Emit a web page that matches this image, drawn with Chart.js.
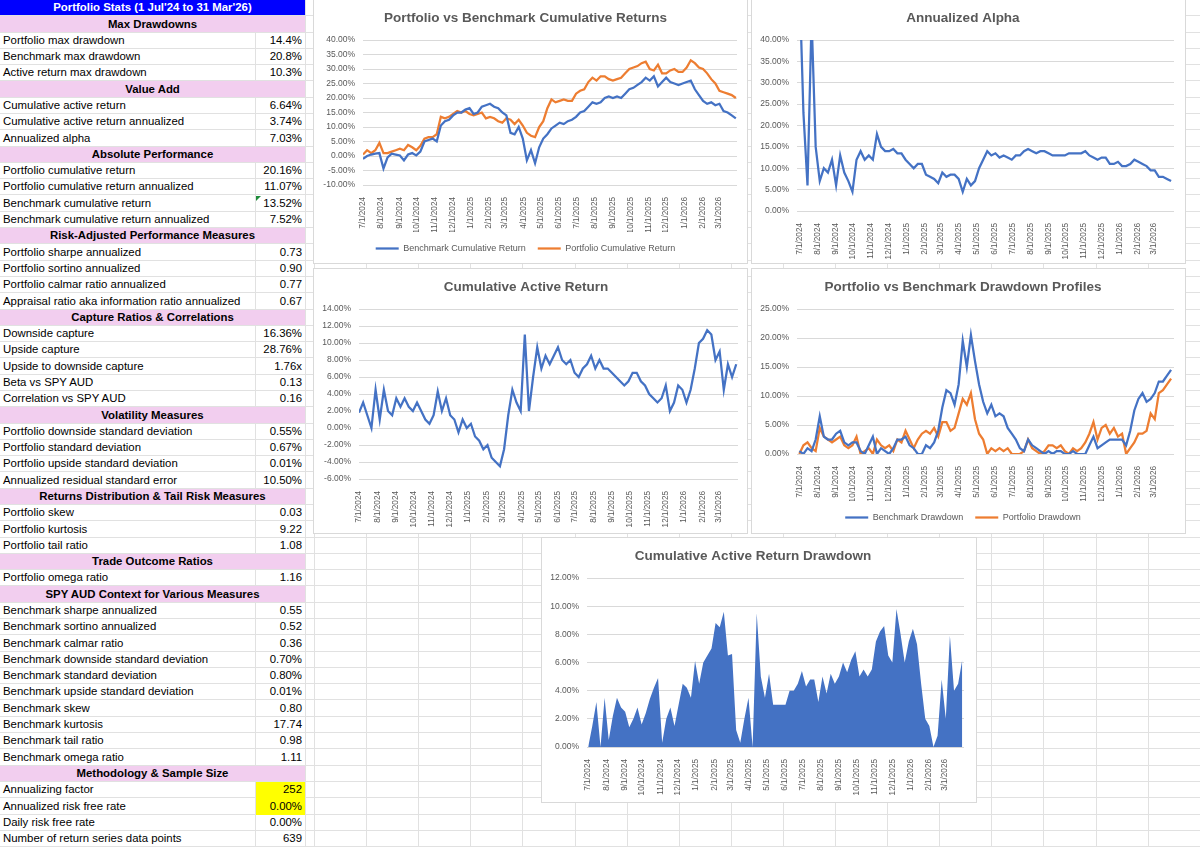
<!DOCTYPE html>
<html>
<head>
<meta charset="utf-8">
<title>Portfolio Stats</title>
<script src="https://cdn.jsdelivr.net/npm/chart.js@4.4.1/dist/chart.umd.min.js"></script>
<style>
  html, body { margin: 0; padding: 0; }
  body { width: 1200px; height: 847px; overflow: hidden; position: relative; background: #fff;
         font-family: 'Liberation Sans', Arial, sans-serif; }
  .gl { position: absolute; background: #e1e1e1; }
  .row { position: absolute; left: 0; width: 305px; box-sizing: border-box; border-bottom: 1px solid #e1e1e1;
         font-size: 11.4px; color: #000; white-space: nowrap; }
  .row .lab { position: absolute; left: 3px; top: 0; }
  .row .val { position: absolute; left: 255px; width: 50px; top: 0; bottom: -1px; box-sizing: border-box;
              border-left: 1px solid #e1e1e1; text-align: right; padding-right: 3px; }
  .hdr { background: #f2ceef; font-weight: bold; text-align: center; }
  .ttl { background: #0000ff; color: #fff; font-weight: bold; text-align: center; }
  .yel { background: #ffff00; }
  .tri { position: absolute; left: 256px; top: 1px; width: 0; height: 0;
         border-top: 5px solid #1e8c3a; border-right: 5px solid transparent; }
  .box { position: absolute; background: #fff; border: 1px solid #d9d9d9; }
  .box canvas { position: absolute; left: 0; top: 0; }
</style>
</head>
<body>
<div id="sheet"></div>
<div id="stats"></div>
<script>
// weekly sample points, days since 7/1/2024
const sampleDays = [0,7,14,21,28,35,42,49,56,63,70,77,84,91,98,105,112,119,126,133,
  140,147,154,161,168,175,182,189,196,203,210,217,224,231,238,245,252,259,266,273,
  280,287,294,301,308,315,322,329,336,343,350,357,364,371,378,385,392,399,406,413,
  420,427,434,441,448,455,462,469,476,483,490,497,504,511,518,525,532,539,546,553,
  560,567,574,581,588,595,602,609,616,623,630,637];

const tickDays = [0,31,62,92,123,153,184,215,243,274,304,335,365,396,427,457,488,518,549,580,608];
const tickLabels = ['7/1/2024','8/1/2024','9/1/2024','10/1/2024','11/1/2024','12/1/2024',
  '1/1/2025','2/1/2025','3/1/2025','4/1/2025','5/1/2025','6/1/2025','7/1/2025','8/1/2025',
  '9/1/2025','10/1/2025','11/1/2025','12/1/2025','1/1/2026','2/1/2026','3/1/2026'];

// percent values
const benchCum = [-1.0,0.0,0.5,0.8,1.0,-4.3,-0.5,0.8,0.5,0.2,
  -1.5,0.5,1.0,0.2,1.5,5.0,5.5,6.0,5.0,10.5,
  12.0,12.5,14.0,15.0,15.0,16.0,16.5,14.5,15.0,17.0,
  17.5,18.0,17.0,16.5,15.0,14.0,8.0,7.5,10.0,6.0,
  -1.5,2.0,-2.5,3.0,6.0,7.5,9.5,10.5,11.5,11.0,
  12.0,12.5,13.5,15.0,15.5,17.0,18.5,18.0,18.5,20.0,
  20.5,20.0,20.5,20.0,21.5,23.0,23.5,24.5,25.5,27.0,
  26.0,27.5,24.0,25.5,27.0,25.5,25.0,24.5,25.0,25.5,
  26.0,23.0,21.0,19.0,18.0,18.5,17.5,18.0,15.5,15.0,
  14.0,13.0];

const portCum = [0.5,2.0,1.0,2.0,4.5,1.0,1.0,1.5,2.0,2.5,
  2.0,3.8,3.0,2.0,3.5,6.0,6.5,6.5,7.5,13.5,
  13.0,13.5,14.5,15.5,15.0,15.5,14.5,14.0,14.5,15.0,
  13.0,13.5,13.0,12.0,11.5,13.0,12.5,11.0,12.5,10.5,
  8.0,7.0,6.5,10.0,12.0,16.5,19.5,18.5,19.0,19.5,
  19.0,19.0,21.5,22.5,23.0,25.5,27.0,26.0,27.5,27.5,
  26.5,26.0,26.5,27.0,28.5,30.0,30.5,31.0,32.0,32.5,
  30.0,29.5,31.5,28.5,28.5,29.5,30.0,29.0,29.0,30.5,
  33.0,32.0,30.5,30.0,28.5,26.5,25.0,22.5,22.0,21.5,
  21.0,20.0];

const alphaAnn = [55,23,6,45,15,7,10,9,12,6,
  13,9,7,4.5,12,14,12,13,12,18,
  15,14,14,14.5,13.5,13.5,12,11,10,11,
  11,8.5,8,7.5,6.5,9,8,8.5,8.5,7.5,
  4.5,7.5,6,7,10,12,14,13,13.5,12.5,
  13,12.5,12,13,13,14,14.5,14,13.5,14,
  14,13.5,13,13,13,13,13.5,13.5,13.5,13.5,
  14,13,12.5,12,12.5,12.5,11,11,11.5,10.5,
  10.5,11,12,11.5,11,10.5,9.5,9.5,8,8,
  7.5,7];

const activeCum = [1.8,3.0,1.5,0.0,4.5,1.0,4.5,2.0,1.5,3.5,
  2.5,3.5,2.5,2.0,3.0,2.0,1.0,0.5,1.5,4.3,
  2.0,3.5,1.5,1.0,-0.5,1.0,0.0,0.5,-1.0,-1.5,
  -2.5,-2.0,-3.5,-4.0,-4.5,-2.5,1.5,4.5,3.0,2.0,
  11.0,2.0,6.0,9.5,7.0,8.5,7.5,8.5,9.5,8.0,
  7.5,8.0,6.5,6.0,7.0,7.5,8.5,7.0,8.0,7.0,
  7.0,6.5,6.0,5.5,5.0,5.5,6.5,6.5,5.5,5.0,
  4.0,3.5,3.0,3.5,5.0,2.0,3.0,5.0,4.5,3.0,
  4.5,7.0,10.0,10.5,11.5,11.0,8.0,9.0,4.5,7.5,
  6.0,7.5];

const benchDD = [0.5,0,1,0.5,2.5,6.5,3,2.5,2.5,3.5,
  4,2,1.5,2,2,0.5,0,1.5,3,0,
  1,0.5,0,1,2.5,2.5,3,1.5,1,0,
  0,1.5,1,2,4,8,11,10.5,8.5,12,
  19.5,15,20.5,16,12,9,7,8.5,6.5,7,
  6.5,4.5,3.5,2.5,1,0.5,2.5,1.5,1,0.5,
  0,0.5,0,0.5,0.5,0,0,0.5,0,0,
  0,1.5,3,1,1.5,2,2.5,2.5,2.5,2.5,
  1.5,4,7.5,9.5,10.5,9,9.5,10.5,12.5,12.5,
  13.5,14.5];

const portDD = [0,1.5,2,1,0.5,4.5,3,2.5,2,2.5,
  3,1.5,1,1.5,3,0,0.5,1,0,2.5,
  1.5,1,1.5,0.5,2.5,2,4,2.5,1,2.5,
  3.5,4,3.5,4.5,3,5.5,5.5,4,4.5,7,
  9.5,8.5,10.5,6,3.5,2.5,0,1,0.5,1,
  0.5,1,0,0,0,0.5,2.5,1,0.5,0,
  0.5,1.5,1.5,1,1.5,0.5,0,1,0.5,1,
  2,3.5,5.5,2.5,4.5,5,3.5,4.5,3,3.5,
  0,1,2,3.5,3.5,4,7,6,10.5,11,
  12,13];

const activeDD = [0,1.5,3.2,0,3.5,0.5,2.2,3.5,2.8,2.5,
  1.4,2,2.8,1.6,2.4,3.4,4.2,4.9,0.3,2,
  2.8,1.5,3,4.5,4.2,3.5,6.1,4.5,6,6.5,
  7,8.8,8.5,9.6,6.5,6.6,1.2,0.3,2,3.5,
  0,9.5,5,3.5,5.2,3,3,3,3,4,
  4,4.5,5.4,4.3,4.8,4.8,3.2,5,3.8,5.2,
  4.5,5,6,5.3,6.2,6.8,5,5.5,5,5.5,
  7.5,8.2,8.6,6.5,6,9.8,8,6,7.5,8.4,
  7.3,4.5,2,1.5,0,0.8,4.8,2,7.9,4,
  4.5,6.2];

// stats table: t = title, h = section header, r = row
const statRows = [
  ['t', "Portfolio Stats (1 Jul'24 to 31 Mar'26)"],
  ['h', 'Max Drawdowns'],
  ['r', 'Portfolio max drawdown', '14.4%'],
  ['r', 'Benchmark max drawdown', '20.8%'],
  ['r', 'Active return max drawdown', '10.3%'],
  ['h', 'Value Add'],
  ['r', 'Cumulative active return', '6.64%'],
  ['r', 'Cumulative active return annualized', '3.74%'],
  ['r', 'Annualized alpha', '7.03%'],
  ['h', 'Absolute Performance'],
  ['r', 'Portfolio cumulative return', '20.16%'],
  ['r', 'Portfolio cumulative return annualized', '11.07%'],
  ['r', 'Benchmark cumulative return', '13.52%'],
  ['r', 'Benchmark cumulative return annualized', '7.52%'],
  ['h', 'Risk-Adjusted Performance Measures'],
  ['r', 'Portfolio sharpe annualized', '0.73'],
  ['r', 'Portfolio sortino annualized', '0.90'],
  ['r', 'Portfolio calmar ratio annualized', '0.77'],
  ['r', 'Appraisal ratio aka information ratio annualized', '0.67'],
  ['h', 'Capture Ratios & Correlations'],
  ['r', 'Downside capture', '16.36%'],
  ['r', 'Upside capture', '28.76%'],
  ['r', 'Upside to downside capture', '1.76x'],
  ['r', 'Beta vs SPY AUD', '0.13'],
  ['r', 'Correlation vs SPY AUD', '0.16'],
  ['h', 'Volatility Measures'],
  ['r', 'Portfolio downside standard deviation', '0.55%'],
  ['r', 'Portfolio standard deviation', '0.67%'],
  ['r', 'Portfolio upside standard deviation', '0.01%'],
  ['r', 'Annualized residual standard error', '10.50%'],
  ['h', 'Returns Distribution & Tail Risk Measures'],
  ['r', 'Portfolio skew', '0.03'],
  ['r', 'Portfolio kurtosis', '9.22'],
  ['r', 'Portfolio tail ratio', '1.08'],
  ['h', 'Trade Outcome Ratios'],
  ['r', 'Portfolio omega ratio', '1.16'],
  ['h', 'SPY AUD Context for Various Measures'],
  ['r', 'Benchmark sharpe annualized', '0.55'],
  ['r', 'Benchmark sortino annualized', '0.52'],
  ['r', 'Benchmark calmar ratio', '0.36'],
  ['r', 'Benchmark downside standard deviation', '0.70%'],
  ['r', 'Benchmark standard deviation', '0.80%'],
  ['r', 'Benchmark upside standard deviation', '0.01%'],
  ['r', 'Benchmark skew', '0.80'],
  ['r', 'Benchmark kurtosis', '17.74'],
  ['r', 'Benchmark tail ratio', '0.98'],
  ['r', 'Benchmark omega ratio', '1.11'],
  ['h', 'Methodology & Sample Size'],
  ['r', 'Annualizing factor', '252', 'yel'],
  ['r', 'Annualized risk free rate', '0.00%', 'yel'],
  ['r', 'Daily risk free rate', '0.00%'],
  ['r', 'Number of return series data points', '639'],
];

const ROW_H = 16.29;
const FONT = "'Liberation Sans', Arial, sans-serif";
const BLUE = '#4472C4', ORANGE = '#ED7D31', GRID = '#D9D9D9', TXT = '#595959';

function rowTop(i) { return Math.round(i * ROW_H); }

function drawSheet() {
  const sheet = document.getElementById('sheet');
  const vx = [305];
  for (let x = 314; x < 1200; x += 52.1) vx.push(Math.round(x));
  vx.forEach(x => {
    const d = document.createElement('div');
    d.className = 'gl';
    d.style.cssText = `left:${x}px;top:0;width:1px;height:847px`;
    sheet.appendChild(d);
  });
  for (let k = 1; k <= 52; k++) {
    const d = document.createElement('div');
    d.className = 'gl';
    d.style.cssText = `left:305px;top:${rowTop(k) - 1}px;width:895px;height:1px`;
    sheet.appendChild(d);
  }
}

function drawStats() {
  const host = document.getElementById('stats');
  statRows.forEach((r, i) => {
    const top = rowTop(i), h = rowTop(i + 1) - top;
    const row = document.createElement('div');
    row.className = 'row' + (r[0] == 't' ? ' ttl' : r[0] == 'h' ? ' hdr' : '');
    row.style.top = top + 'px';
    row.style.height = h + 'px';
    row.style.lineHeight = (h - 1) + 'px';
    if (r[0] == 'r') {
      const lab = document.createElement('span');
      lab.className = 'lab';
      lab.textContent = r[1];
      const val = document.createElement('span');
      val.className = 'val' + (r[3] ? ' ' + r[3] : '');
      val.textContent = r[2];
      row.appendChild(lab);
      row.appendChild(val);
      if (r[1] == 'Benchmark cumulative return') {
        const tri = document.createElement('span');
        tri.className = 'tri';
        row.appendChild(tri);
      }
    } else {
      row.textContent = r[1];
    }
    host.appendChild(row);
  });
}

function series(label, values, color, area) {
  return {
    label: label,
    data: sampleDays.map((d, i) => ({x: d, y: values[i]})),
    borderColor: color,
    backgroundColor: color,
    borderWidth: area ? 0 : 2.25,
    pointRadius: 0,
    tension: 0,
    fill: area ? 'origin' : false
  };
}

function makeChart(spec) {
  const box = document.createElement('div');
  box.className = 'box';
  box.style.left = spec.left + 'px';
  box.style.top = spec.top + 'px';
  box.style.width = (spec.w - 2) + 'px';
  box.style.height = (spec.h - 2) + 'px';
  const canvas = document.createElement('canvas');
  canvas.width = spec.w - 2;
  canvas.height = spec.h - 2;
  box.appendChild(canvas);
  document.body.appendChild(box);

  const tickFont = {family: FONT, size: 8.2};
  return new Chart(canvas.getContext('2d'), {
    type: 'line',
    data: {datasets: spec.datasets},
    options: {
      responsive: false,
      animation: false,
      devicePixelRatio: 1,
      layout: {padding: {left: 0, right: spec.padR, top: 0, bottom: spec.padB}},
      plugins: {
        title: {
          display: true, text: spec.title, color: TXT,
          font: {family: FONT, size: 13.5, weight: 'bold'},
          padding: {top: 10, bottom: 13.8}
        },
        legend: spec.legend ? {
          display: true, position: 'bottom',
          labels: {usePointStyle: true, pointStyle: 'line', pointStyleWidth: 23, padding: 12,
                   color: TXT, font: {family: FONT, size: 9}}
        } : {display: false},
        tooltip: {enabled: false}
      },
      scales: {
        x: {
          type: 'linear', min: spec.xMin, max: spec.xMax,
          grid: {display: false}, border: {display: false},
          afterBuildTicks: ax => { ax.ticks = tickDays.map(v => ({value: v})); },
          afterFit: ax => { ax.height = spec.xH; },
          ticks: {autoSkip: false, minRotation: 90, maxRotation: 90, padding: 4, color: TXT, font: tickFont,
                  callback: v => tickLabels[tickDays.indexOf(v)]}
        },
        y: {
          min: spec.yMin, max: spec.yMax,
          grid: {color: GRID, drawTicks: false}, border: {display: false},
          afterFit: ax => { ax.width = spec.yW; },
          ticks: {stepSize: spec.step, padding: 8, color: TXT, font: {family: FONT, size: 8.5},
                  callback: v => v.toFixed(2) + '%'}
        }
      }
    }
  });
}

drawSheet();
drawStats();

makeChart({
  left: 313, top: -1, w: 435, h: 265, yW: 49, padR: 10, padB: 0, xH: 47, legend: true,
  title: 'Portfolio vs Benchmark Cumulative Returns', xMin: 0, xMax: 639,
  yMin: -10, yMax: 40, step: 5,
  datasets: [series('Benchmark Cumulative Return', benchCum, BLUE),
             series('Portfolio Cumulative Return', portCum, ORANGE)]
});

makeChart({
  left: 751, top: -1, w: 435, h: 265, yW: 45, padR: 11, padB: 0, xH: 52, legend: false,
  title: 'Annualized Alpha', xMin: -4, xMax: 642,
  yMin: 0, yMax: 40, step: 5,
  datasets: [series('Annualized Alpha', alphaAnn, BLUE)]
});

makeChart({
  left: 313, top: 268, w: 435, h: 266, yW: 45, padR: 9, padB: 0, xH: 54, legend: false,
  title: 'Cumulative Active Return', xMin: 0, xMax: 640,
  yMin: -6, yMax: 14, step: 2,
  datasets: [series('Cumulative Active Return', activeCum, BLUE)]
});

makeChart({
  left: 751, top: 268, w: 435, h: 266, yW: 45, padR: 11, padB: 1, xH: 47, legend: true,
  title: 'Portfolio vs Benchmark Drawdown Profiles', xMin: -4, xMax: 642,
  yMin: 0, yMax: 25, step: 5,
  datasets: [series('Benchmark Drawdown', benchDD, BLUE),
             series('Portfolio Drawdown', portDD, ORANGE)]
});

makeChart({
  left: 541, top: 537, w: 436, h: 266, yW: 45, padR: 12, padB: 0, xH: 55, legend: false,
  title: 'Cumulative Active Return Drawdown', xMin: -2, xMax: 640,
  yMin: 0, yMax: 12, step: 2,
  datasets: [series('Cumulative Active Return Drawdown', activeDD, BLUE, true)]
});
</script>
</body>
</html>
